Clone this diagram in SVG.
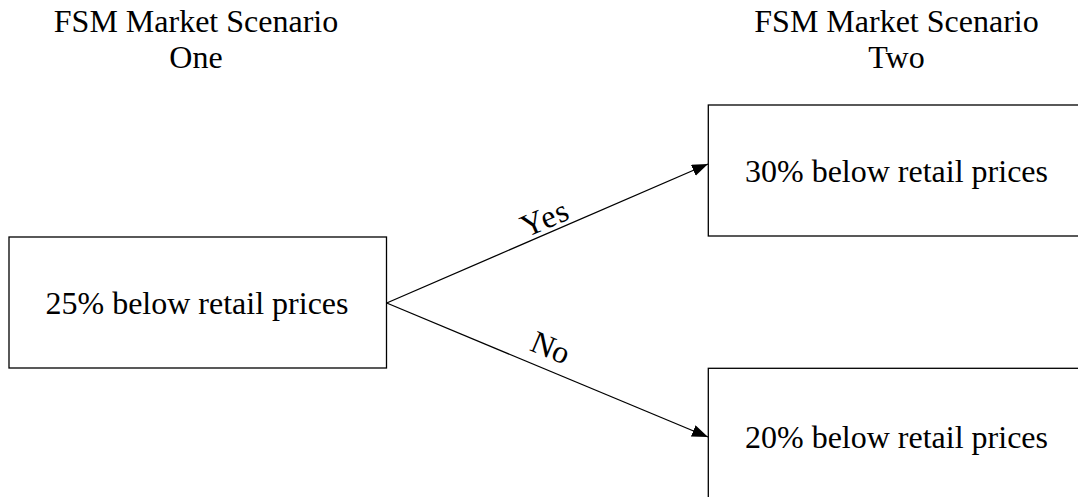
<svg xmlns="http://www.w3.org/2000/svg" width="1078" height="497" viewBox="0 0 1078 497">
<style>
text{font-family:"Liberation Serif","Times New Roman",serif;font-size:32px;fill:#000;text-anchor:middle}
.box{fill:#fff;stroke:#000;stroke-width:1.3}
.con{fill:none;stroke:#000;stroke-width:1.3}
</style>
<defs>
<marker id="arr" markerUnits="userSpaceOnUse" markerWidth="18" markerHeight="14" refX="16" refY="6" orient="auto">
<path d="M0,0 L16,6 L0,12 Z" fill="#000"/>
</marker>
</defs>
<rect width="1078" height="497" fill="#fff"/>
<g id="title-one">
<text x="196" y="32">FSM Market Scenario</text>
<text x="196" y="68">One</text>
</g>
<g id="title-two">
<text x="896.5" y="32">FSM Market Scenario</text>
<text x="896.5" y="68">Two</text>
</g>
<g id="node-25">
<rect class="box" x="9" y="237" width="377.5" height="131"/>
<text x="197" y="314">25% below retail prices</text>
</g>
<g id="node-30">
<rect class="box" x="708.3" y="105" width="400" height="131"/>
<text x="896.5" y="182">30% below retail prices</text>
</g>
<g id="node-20">
<rect class="box" x="708.3" y="368.3" width="400" height="160"/>
<text x="896.5" y="448">20% below retail prices</text>
</g>
<g id="connectors">
<line class="con" x1="386.7" y1="303" x2="708" y2="164" marker-end="url(#arr)"/>
<line class="con" x1="386.7" y1="303" x2="708" y2="437" marker-end="url(#arr)"/>
<text transform="translate(549,228) rotate(-23.4)" letter-spacing="1">Yes</text>
<text transform="translate(546.5,357.5) rotate(22.66)">No</text>
</g>
</svg>
